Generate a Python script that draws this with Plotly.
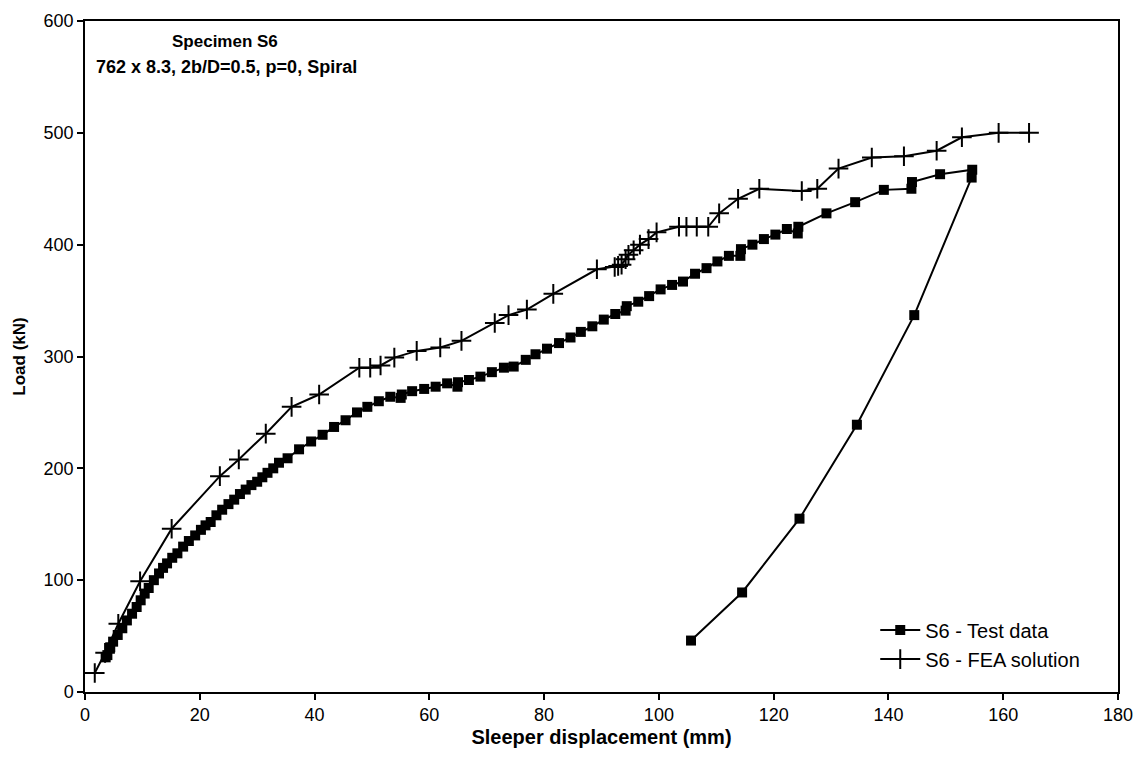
import plotly.graph_objects as go

# Specimen S6 – measured load/displacement (loading then unloading branch)
test_disp = [3.6, 3.9, 4.4, 4.9, 5.7, 6.5, 7.3, 8.2, 9.0, 9.7, 10.4, 11.1, 12.0, 12.9,
             13.6, 14.3, 15.2, 16.1, 17.1, 18.1, 19.2, 20.2, 21.0, 21.9, 22.9, 23.9,
             25.0, 26.0, 27.0, 28.0, 29.0, 30.0, 30.9, 31.8, 32.8, 33.8, 35.3, 37.3,
             39.4, 41.4, 43.4, 45.4, 47.4, 49.2, 51.2, 53.2, 55.0, 55.2, 57.0, 59.1,
             61.1, 63.1, 64.9, 65.0, 66.9, 68.9, 70.9, 73.0, 74.7, 76.8, 78.5, 80.5,
             82.6, 84.6, 86.4, 88.4, 90.4, 92.4, 94.2, 94.4, 96.4, 98.3, 100.3, 102.3,
             104.2, 106.3, 108.3, 110.2, 112.2, 114.2, 114.3, 116.3, 118.3, 120.3,
             122.3, 124.2, 124.3, 129.2, 134.2, 139.2, 144.0, 144.1, 149.0, 154.6,
             154.5, 144.5, 134.5, 124.5, 114.5, 105.6]
test_load = [31, 33, 40, 45, 51, 57, 64, 70, 76, 82, 88, 93, 100, 106,
             111, 115, 120, 124, 130, 135, 140, 145, 149, 152, 158, 163,
             168, 172, 177, 181, 185, 188, 192, 196, 200, 205, 209, 217,
             224, 230, 237, 243, 250, 255, 260, 264, 263, 266, 269, 271,
             273, 276, 273, 277, 279, 282, 286, 290, 291, 297, 302, 307,
             312, 317, 322, 327, 333, 338, 341, 345, 349, 354, 360, 364,
             367, 374, 379, 385, 390, 390, 396, 400, 405, 409,
             414, 410, 416, 428, 438, 449, 450, 456, 463, 467,
             460, 337, 239, 155, 89, 46]

# Specimen S6 – finite element prediction
fea_disp = [1.7, 3.5, 5.8, 9.6, 15.1, 23.5, 26.8, 31.5, 36.0, 40.8, 47.8, 49.7,
            51.5, 53.9, 57.8, 61.9, 65.6, 71.4, 73.8, 77.0, 81.6, 89.2, 92.3,
            92.9, 93.5, 94.2, 94.7, 95.6, 96.7, 98.2, 99.6, 103.5, 104.8, 106.6,
            108.6, 110.5, 113.8, 117.5, 124.9, 127.6, 131.3, 137.1, 142.7, 148.4,
            152.8, 159.2, 164.5]
fea_load = [17, 35, 61, 99, 146, 193, 208, 231, 255, 266, 290, 290,
            292, 299, 305, 308, 314, 330, 337, 342, 356, 378, 380,
            381, 382, 387, 391, 395, 400, 405, 411, 416, 416, 416,
            416, 428, 441, 450, 448, 450, 468, 478, 479, 484,
            496, 500, 500]

x_ticks = [0, 20, 40, 60, 80, 100, 120, 140, 160, 180]
y_ticks = [0, 100, 200, 300, 400, 500, 600]

FONT = "Liberation Sans, Arial, sans-serif"

fig = go.Figure()
fig.add_trace(go.Scatter(
    x=test_disp, y=test_load, mode="lines+markers", name="S6 - Test data",
    line=dict(color="black", width=2),
    marker=dict(symbol="square", size=10, color="black"),
))
fig.add_trace(go.Scatter(
    x=fea_disp, y=fea_load, mode="lines+markers", name="S6 - FEA solution",
    line=dict(color="black", width=2),
    marker=dict(symbol="cross-thin", size=14, line=dict(color="black", width=2)),
))

axis_common = dict(
    showgrid=False, zeroline=False, showline=True, linecolor="black",
    linewidth=1.5, mirror=True, ticks="outside", ticklen=6, tickwidth=1.5,
    tickcolor="black", tickfont=dict(family=FONT, size=18, color="black"),
)

fig.update_layout(
    width=1146, height=764,
    margin=dict(l=85, r=28, t=21, b=72),
    paper_bgcolor="white", plot_bgcolor="white",
    font=dict(family=FONT, color="black"),
    xaxis=dict(range=[0, 180], tickvals=x_ticks,
               title=dict(text="<b>Sleeper displacement (mm)</b>",
                          font=dict(family=FONT, size=20), standoff=6),
               **axis_common),
    yaxis=dict(range=[0, 600], tickvals=y_ticks,
               title=dict(text="<b>Load (kN)</b>",
                          font=dict(family=FONT, size=17), standoff=14),
               **axis_common),
    legend=dict(x=0.765, y=0.02, xanchor="left", yanchor="bottom",
                bgcolor="rgba(0,0,0,0)", font=dict(family=FONT, size=20),
                tracegroupgap=0, itemwidth=40),
    showlegend=True,
    annotations=[
        dict(text="<b>Specimen S6</b>", xref="paper", yref="paper",
             x=0.136, y=0.97, xanchor="center", yanchor="middle",
             showarrow=False, font=dict(family=FONT, size=17)),
        dict(text="<b>762 x 8.3, 2b/D=0.5, p=0, Spiral</b>", xref="paper",
             yref="paper", x=0.009, y=0.932, xanchor="left", yanchor="middle",
             showarrow=False, font=dict(family=FONT, size=18)),
    ],
)

fig.write_html("out.html")
